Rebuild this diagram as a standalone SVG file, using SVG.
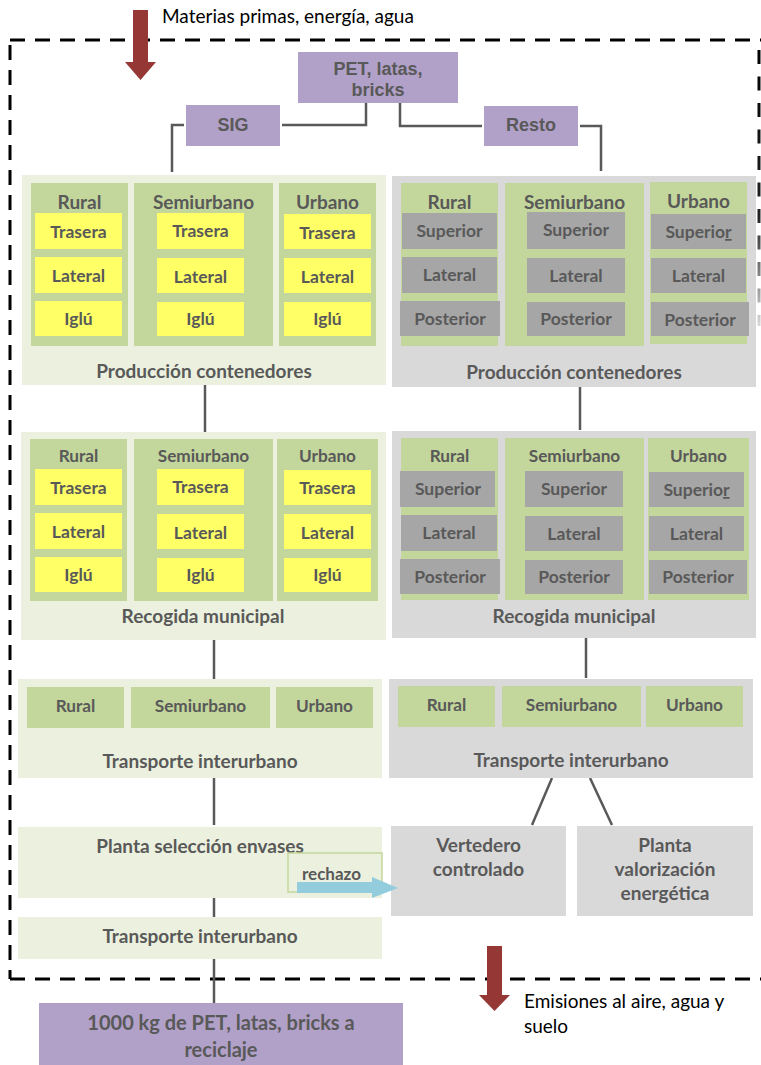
<svg xmlns="http://www.w3.org/2000/svg" width="761" height="1065" viewBox="0 0 761 1065">
<style>
.t{font-family:Lato,"Open Sans",sans-serif;font-weight:700;fill:#595959;text-anchor:middle}
.h{font-size:19px}
.m{font-size:17.5px}
.k{font-size:17.2px}
.s{font-size:17px}
.b{font-size:20px}
.pe{font-family:"Liberation Sans",Arial,sans-serif;font-weight:700;font-size:18px;fill:#595959;text-anchor:middle}
.r{font-family:Lato,"Open Sans",sans-serif;font-weight:400;font-size:19px;fill:#000}
.lg{fill:#ebf1de}
.gp{fill:#d9d9d9}
.g{fill:#c3d69b}
.y{fill:#ffff66}
.gb{fill:#a6a6a6}
.pu{fill:#b1a0c7}
.c{stroke:#595959;stroke-width:2.5;fill:none}
</style>
<defs>
<linearGradient id="fade" gradientUnits="userSpaceOnUse" x1="0" y1="45" x2="0" y2="330">
<stop offset="0" stop-color="#000"/><stop offset="0.6" stop-color="#222"/><stop offset="1" stop-color="#e0e0e0"/>
</linearGradient>
</defs>

<g id="boundary">
<path d="M10,40 H761" stroke="#000" stroke-width="3" stroke-dasharray="15 10" fill="none"/>
<path d="M10,45 V979" stroke="#000" stroke-width="3" stroke-dasharray="15 10" fill="none"/>
<path d="M10,979 H761" stroke="#000" stroke-width="3" stroke-dasharray="15 10" fill="none"/>
<path d="M759,50 V326" stroke="url(#fade)" stroke-width="3" stroke-dasharray="14 12.5" fill="none"/>
</g>

<g id="input">
<polygon points="133,10 148,10 148,62 156,62 140.5,80 125,62 133,62" fill="#953735"/>
<text class="r" x="162" y="23" font-size="19.5">Materias primas, energía, agua</text>
</g>

<g id="connectors">
<path class="c" d="M366,103 V125 H282"/>
<path class="c" d="M184,125 H172 V172"/>
<path class="c" d="M400,103 V126 H482"/>
<path class="c" d="M580,126 H601 V171"/>
<path class="c" d="M205,385 V432"/>
<path class="c" d="M580,387 V430"/>
<path class="c" d="M214,640 V680"/>
<path class="c" d="M586,638 V678"/>
<path class="c" d="M214,778 V825"/>
<path class="c" d="M214,898 V917"/>
<path class="c" d="M214,959 V1003"/>
<path class="c" d="M552,778 L532,825"/>
<path class="c" d="M590,778 L612,825"/>
</g>

<g id="pet">
<rect class="pu" x="298" y="52" width="160" height="51"/>
<text class="pe" x="378" y="75">PET, latas,</text>
<text class="pe" x="378" y="96">bricks</text>
</g>
<g id="sig">
<rect class="pu" x="186" y="105" width="94" height="41"/>
<text class="pe" x="233" y="131">SIG</text>
</g>
<g id="resto">
<rect class="pu" x="484" y="106" width="94" height="40"/>
<text class="pe" x="531" y="131">Resto</text>
</g>

<g id="sig-produccion">
<rect class="lg" x="22" y="175" width="364" height="210"/>
<rect class="g" x="31" y="183" width="97" height="163"/>
<rect class="g" x="134" y="183" width="139" height="163"/>
<rect class="g" x="279" y="183" width="97" height="163"/>
<text class="t h" x="79.5" y="209">Rural</text>
<text class="t h" x="203.5" y="209">Semiurbano</text>
<text class="t h" x="327.5" y="209">Urbano</text>
<rect class="y" x="35" y="213" width="87" height="36"/>
<rect class="y" x="35" y="257" width="87" height="36"/>
<rect class="y" x="35" y="301" width="87" height="35"/>
<rect class="y" x="157" y="213" width="87" height="36"/>
<rect class="y" x="157" y="258" width="87" height="35"/>
<rect class="y" x="157" y="302" width="87" height="34"/>
<rect class="y" x="284" y="214" width="87" height="35"/>
<rect class="y" x="284" y="258" width="87" height="35"/>
<rect class="y" x="284" y="302" width="87" height="34"/>
<text class="t m" x="78.5" y="237.5">Trasera</text>
<text class="t m" x="78.5" y="281.5">Lateral</text>
<text class="t m" x="78.5" y="325">Iglú</text>
<text class="t m" x="200.5" y="236.5">Trasera</text>
<text class="t m" x="200.5" y="282.5">Lateral</text>
<text class="t m" x="200.5" y="325">Iglú</text>
<text class="t m" x="327.5" y="238.5">Trasera</text>
<text class="t m" x="327.5" y="282.5">Lateral</text>
<text class="t m" x="327.5" y="325">Iglú</text>
<text class="t h" x="204" y="378">Producción contenedores</text>
</g>

<g id="resto-produccion">
<rect class="gp" x="392" y="176" width="364" height="211"/>
<rect class="g" x="401" y="183" width="97" height="163"/>
<rect class="g" x="505" y="183" width="139" height="163"/>
<rect class="g" x="650" y="182" width="97" height="162"/>
<text class="t h" x="449.5" y="209">Rural</text>
<text class="t h" x="574.5" y="209">Semiurbano</text>
<text class="t h" x="698.5" y="208">Urbano</text>
<rect class="gb" x="402" y="213" width="95" height="36"/>
<rect class="gb" x="402" y="257" width="95" height="36"/>
<rect class="gb" x="400" y="301" width="100" height="35"/>
<rect class="gb" x="527" y="212" width="98" height="37"/>
<rect class="gb" x="527" y="258" width="98" height="35"/>
<rect class="gb" x="527" y="302" width="98" height="34"/>
<rect class="gb" x="651" y="214" width="95" height="35"/>
<rect class="gb" x="651" y="258" width="95" height="35"/>
<rect class="gb" x="651" y="302" width="98" height="34"/>
<text class="t m" x="449.5" y="237">Superior</text>
<text class="t m" x="449.5" y="281">Lateral</text>
<text class="t m" x="450" y="325">Posterior</text>
<text class="t m" x="576" y="236">Superior</text>
<text class="t m" x="576" y="282">Lateral</text>
<text class="t m" x="576" y="325">Posterior</text>
<text class="t m" x="698.5" y="238">Superio<tspan text-decoration="underline">r</tspan></text>
<text class="t m" x="698.5" y="282">Lateral</text>
<text class="t m" x="700" y="326">Posterior</text>
<text class="t h" x="574" y="379">Producción contenedores</text>
</g>

<g id="sig-recogida">
<rect class="lg" x="21" y="432" width="365" height="208"/>
<rect class="g" x="30" y="439" width="97" height="162"/>
<rect class="g" x="134" y="439" width="139" height="162"/>
<rect class="g" x="277" y="439" width="101" height="162"/>
<text class="t k" x="78.5" y="462">Rural</text>
<text class="t k" x="203.5" y="462">Semiurbano</text>
<text class="t k" x="327.5" y="462">Urbano</text>
<rect class="y" x="35" y="469" width="87" height="36"/>
<rect class="y" x="35" y="513" width="87" height="36"/>
<rect class="y" x="35" y="557" width="87" height="35"/>
<rect class="y" x="157" y="469" width="87" height="36"/>
<rect class="y" x="157" y="514" width="87" height="35"/>
<rect class="y" x="157" y="558" width="87" height="34"/>
<rect class="y" x="284" y="470" width="87" height="35"/>
<rect class="y" x="284" y="514" width="87" height="35"/>
<rect class="y" x="284" y="558" width="87" height="34"/>
<text class="t m" x="78.5" y="494">Trasera</text>
<text class="t m" x="78.5" y="537.5">Lateral</text>
<text class="t m" x="78.5" y="581">Iglú</text>
<text class="t m" x="200.5" y="493">Trasera</text>
<text class="t m" x="200.5" y="538.5">Lateral</text>
<text class="t m" x="200.5" y="581">Iglú</text>
<text class="t m" x="327.5" y="494">Trasera</text>
<text class="t m" x="327.5" y="538.5">Lateral</text>
<text class="t m" x="327.5" y="581">Iglú</text>
<text class="t h" x="203" y="623">Recogida municipal</text>
</g>

<g id="resto-recogida">
<rect class="gp" x="392" y="431" width="364" height="207"/>
<rect class="g" x="401" y="438" width="97" height="162"/>
<rect class="g" x="505" y="438" width="139" height="162"/>
<rect class="g" x="648" y="438" width="101" height="162"/>
<text class="t k" x="449.5" y="462">Rural</text>
<text class="t k" x="574.5" y="462">Semiurbano</text>
<text class="t k" x="698.5" y="462">Urbano</text>
<rect class="gb" x="400" y="471" width="95" height="36"/>
<rect class="gb" x="401" y="515" width="96" height="36"/>
<rect class="gb" x="400" y="559" width="100" height="35"/>
<rect class="gb" x="525" y="471" width="98" height="36"/>
<rect class="gb" x="525" y="516" width="98" height="35"/>
<rect class="gb" x="525" y="560" width="98" height="34"/>
<rect class="gb" x="649" y="472" width="95" height="35"/>
<rect class="gb" x="649" y="516" width="95" height="35"/>
<rect class="gb" x="649" y="560" width="98" height="34"/>
<text class="t m" x="448" y="495">Superior</text>
<text class="t m" x="449" y="539">Lateral</text>
<text class="t m" x="450" y="583">Posterior</text>
<text class="t m" x="574" y="495">Superior</text>
<text class="t m" x="574" y="540">Lateral</text>
<text class="t m" x="574" y="583">Posterior</text>
<text class="t m" x="696.5" y="496">Superio<tspan text-decoration="underline">r</tspan></text>
<text class="t m" x="696.5" y="540">Lateral</text>
<text class="t m" x="698" y="583">Posterior</text>
<text class="t h" x="574" y="623">Recogida municipal</text>
</g>

<g id="sig-transporte">
<rect class="lg" x="18" y="679" width="364" height="99"/>
<rect class="g" x="27" y="687" width="97" height="41"/>
<rect class="g" x="131" y="687" width="139" height="41"/>
<rect class="g" x="276" y="687" width="97" height="41"/>
<text class="t k" x="75.5" y="712">Rural</text>
<text class="t k" x="200.5" y="712">Semiurbano</text>
<text class="t k" x="324.5" y="712">Urbano</text>
<text class="t h" x="200" y="768">Transporte interurbano</text>
</g>

<g id="resto-transporte">
<rect class="gp" x="389" y="679" width="364" height="99"/>
<rect class="g" x="398" y="686" width="97" height="41"/>
<rect class="g" x="502" y="686" width="139" height="41"/>
<rect class="g" x="646" y="686" width="97" height="41"/>
<text class="t k" x="446.5" y="711">Rural</text>
<text class="t k" x="571.5" y="711">Semiurbano</text>
<text class="t k" x="694.5" y="711">Urbano</text>
<text class="t h" x="571" y="767">Transporte interurbano</text>
</g>

<g id="planta-seleccion">
<rect class="lg" x="18" y="827" width="364" height="71"/>
<text class="t h" x="200" y="853">Planta selección envases</text>
</g>

<g id="transporte-final">
<rect class="lg" x="18" y="917" width="364" height="42"/>
<text class="t h" x="200" y="943">Transporte interurbano</text>
</g>

<g id="vertedero">
<rect class="gp" x="391" y="826" width="175" height="90"/>
<text class="t h" x="478.5" y="852">Vertedero</text>
<text class="t h" x="478.5" y="876">controlado</text>
</g>

<g id="planta-valorizacion">
<rect class="gp" x="577" y="826" width="176" height="90"/>
<text class="t h" x="665" y="852">Planta</text>
<text class="t h" x="665" y="876">valorización</text>
<text class="t h" x="665" y="900">energética</text>
</g>

<g id="rechazo">
<rect x="288" y="853" width="94" height="39" fill="none" stroke="#c3d69b" stroke-width="1.5"/>
<text class="t s" x="302" y="880" style="text-anchor:start">rechazo</text>
<polygon points="297,882 372,882 372,877 398,888 372,898 372,893 297,893" fill="#93cddd"/>
</g>

<g id="resultado">
<rect class="pu" x="39" y="1003" width="364" height="62"/>
<text class="t b" x="221" y="1030">1000 kg de PET, latas, bricks a</text>
<text class="t b" x="221" y="1057">reciclaje</text>
</g>

<g id="emisiones">
<polygon points="487,946 502,946 502,995 510,995 494.5,1011 479,995 487,995" fill="#953735"/>
<text class="r" x="524" y="1008">Emisiones al aire, agua y</text>
<text class="r" x="524" y="1033">suelo</text>
</g>
</svg>
